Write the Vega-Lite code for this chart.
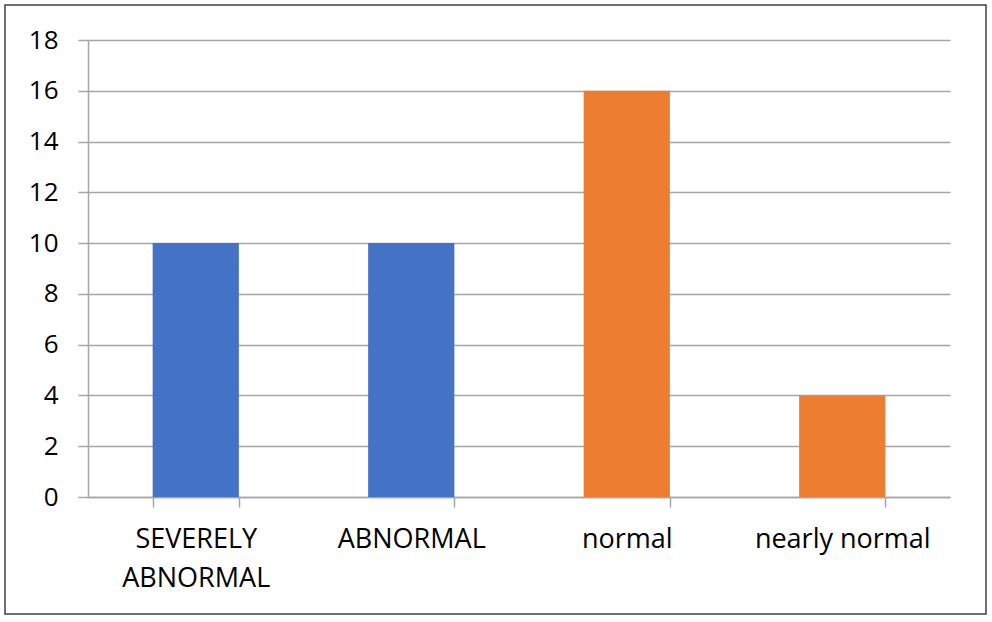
{
  "$schema": "https://vega.github.io/schema/vega-lite/v6.json",
  "autosize": {"type": "none"},
  "padding": {"left": 5, "top": 5, "right": 6, "bottom": 8},
  "width": 981,
  "height": 609,
  "background": "white",
  "config": {"view": {"stroke": "#404040", "strokeWidth": 1.5}},
  "data": {
    "values": [
      {"category": "SEVERELY ABNORMAL", "value": 10, "group": "abnormal"},
      {"category": "ABNORMAL", "value": 10, "group": "abnormal"},
      {"category": "normal", "value": 16, "group": "normal"},
      {"category": "nearly normal", "value": 4, "group": "normal"}
    ]
  },
  "mark": {"type": "bar"},
  "encoding": {
    "x": {
      "field": "category",
      "type": "nominal",
      "sort": null,
      "scale": {"range": [83, 945], "paddingInner": 0.6, "paddingOuter": 0.3},
      "axis": {
        "orient": "bottom",
        "offset": -117,
        "title": null,
        "labelAngle": 0,
        "tickBand": "extent",
        "tickSize": 10,
        "tickColor": "#a6a6a6",
        "tickWidth": 1.5,
        "domainColor": "#a6a6a6",
        "domainWidth": 1.5,
        "labelFont": "Open Sans",
        "labelFontSize": 27,
        "labelColor": "#000000",
        "labelPadding": 19,
        "labelLineHeight": 39,
        "labelLimit": 0,
        "labelExpr": "datum.label == 'SEVERELY ABNORMAL' ? ['SEVERELY', 'ABNORMAL'] : datum.label",
        "grid": false
      }
    },
    "y": {
      "field": "value",
      "type": "quantitative",
      "scale": {"domain": [0, 18], "range": [492, 35], "nice": false},
      "axis": {
        "orient": "left",
        "offset": -83,
        "title": null,
        "values": [0, 2, 4, 6, 8, 10, 12, 14, 16, 18],
        "grid": true,
        "gridColor": "#a6a6a6",
        "gridWidth": 1.5,
        "tickSize": 10,
        "tickColor": "#a6a6a6",
        "tickWidth": 1.5,
        "domainColor": "#a6a6a6",
        "domainWidth": 1.5,
        "labelFont": "Open Sans",
        "labelFontSize": 26,
        "labelPadding": 20,
        "labelColor": "#000000"
      }
    },
    "color": {
      "field": "group",
      "type": "nominal",
      "scale": {"domain": ["abnormal", "normal"], "range": ["#4472C4", "#ED7D31"]},
      "legend": null
    }
  }
}
